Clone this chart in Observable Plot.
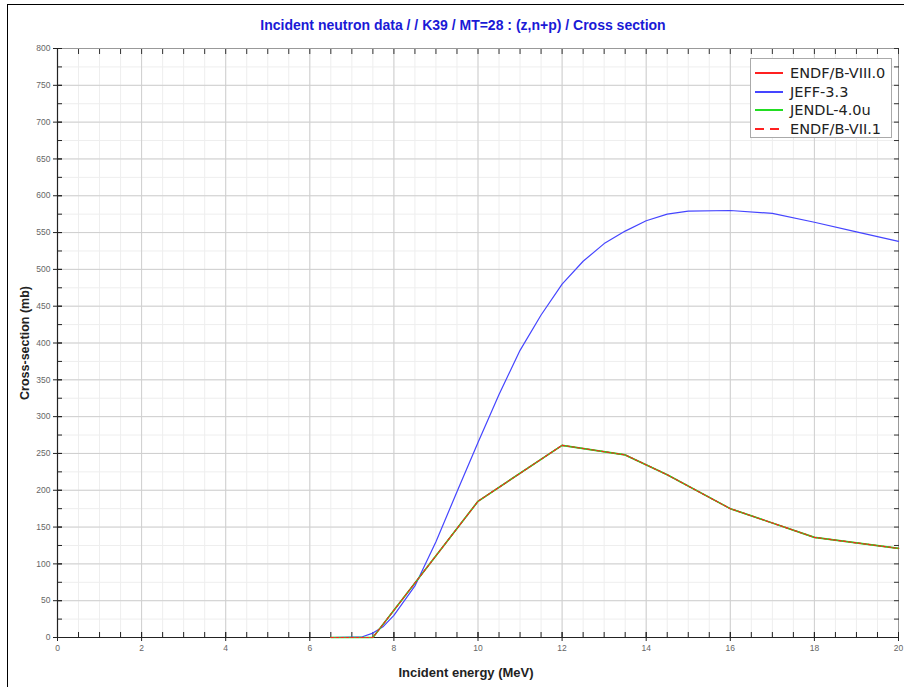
<!DOCTYPE html>
<html><head><meta charset="utf-8">
<script src="https://cdn.jsdelivr.net/npm/d3@7"></script>
<script src="https://cdn.jsdelivr.net/npm/@observablehq/plot@0.6"></script>
<style>
body{margin:0;background:#fff;}
#wrap{position:relative;width:904px;height:687px;overflow:hidden;background:#fff;}
#frame{position:absolute;left:7px;top:4px;width:1000px;height:1000px;border-left:1px solid #000;border-top:1px solid #000;}
#title{position:absolute;left:0;width:926px;top:17px;text-align:center;font:bold 14px "Liberation Sans Narrow","Arial Narrow","Liberation Sans",sans-serif;color:#1a1ad6;}
#chart{position:absolute;left:0;top:40px;}
#legend{position:absolute;left:750px;top:58px;width:140px;height:78px;border:1px solid #aaa;background:#fff;font:14.5px "DejaVu Sans",sans-serif;color:#222;}
#legend .row{position:absolute;left:4px;height:18px;display:flex;align-items:center;white-space:nowrap;}
#legend svg{margin-right:7px;}
</style></head>
<body><div id="wrap"><div id="frame"></div><div id="title"></div><div id="chart"></div><div id="legend"></div></div>
<script>
const titleText = "Incident neutron data / / K39 / MT=28 : (z,n+p) / Cross section";
const xLabel = "Incident energy (MeV)";
const yLabel = "Cross-section (mb)";

const seriesNames = ["ENDF/B-VIII.0", "JEFF-3.3", "JENDL-4.0u", "ENDF/B-VII.1"];
const seriesColors = ["#ff2020", "#4545ff", "#22dd22", "#ff2020"];

const energyEndf8 = [6.5, 7.5, 10, 12, 13.5, 14.5, 16, 18, 20];
const xsEndf8     = [0, 0, 185, 261, 248, 221, 175, 136, 121];

const energyJeff = [6.5, 7, 7.25, 7.5, 7.75, 8, 8.5, 9, 9.5, 10, 10.5, 11, 11.5, 12, 12.5, 13, 13.5, 14, 14.5, 15, 16, 17, 18, 19, 20];
const xsJeff     = [0, 0.5, 1, 6, 15, 30, 70, 130, 198, 265, 330, 390, 438, 480, 511, 535, 552, 566, 575, 579, 580, 576, 564, 551, 538];

const energyJendl = [6.5, 7.5, 10, 12, 13.5, 14.5, 16, 18, 20];
const xsJendl     = [0, 0, 185, 261, 248, 221, 175, 136, 121];

const energyEndf7 = [6.5, 7.5, 10, 12, 13.5, 14.5, 16, 18, 20];
const xsEndf7     = [0, 0, 185, 261, 248, 221, 175, 136, 121];

const xMajor = d3.range(0, 20.01, 2);
const xMinor = d3.range(0, 20.01, 0.5);
const yMajor = d3.range(0, 800.1, 50);
const yMinor = d3.range(0, 800.1, 25);

const toRows = (e, v) => e.map((x, i) => ({x, y: v[i]}));
const dEndf8 = toRows(energyEndf8, xsEndf8);
const dJeff = toRows(energyJeff, xsJeff);
const dJendl = toRows(energyJendl, xsJendl);
const dEndf7 = toRows(energyEndf7, xsEndf7);

document.getElementById("title").textContent = titleText;

const tickFont = "'Liberation Sans Narrow','Arial Narrow',sans-serif";
const chart = Plot.plot({
  width: 904, height: 647,
  marginTop: 8, marginBottom: 50, marginLeft: 57, marginRight: 6,
  x: {domain: [0, 20]},
  y: {domain: [0, 800]},
  style: {background: "transparent"},
  marks: [
    Plot.gridX(xMinor, {stroke: "#eeeeee", strokeOpacity: 1}),
    Plot.gridY(yMinor, {stroke: "#eeeeee", strokeOpacity: 1}),
    Plot.gridX(xMajor, {stroke: "#cfcfcf", strokeOpacity: 1}),
    Plot.gridY(yMajor, {stroke: "#cfcfcf", strokeOpacity: 1}),
    Plot.frame({anchor: "top", stroke: "#999"}),
    Plot.frame({anchor: "right", stroke: "#999"}),
    Plot.axisX(xMinor, {anchor: "top", tickSize: 5, dy: 5, text: null, label: null, stroke: "#333"}),
    Plot.axisY(yMinor, {anchor: "right", tickSize: 5, dx: -5, text: null, label: null, stroke: "#333"}),
    Plot.axisX(xMinor, {anchor: "bottom", tickSize: 5, dy: -5, text: null, label: null, stroke: "#222"}),
    Plot.axisY(yMinor, {anchor: "left", tickSize: 5, dx: 5, text: null, label: null, stroke: "#222"}),
    Plot.axisX(xMajor, {anchor: "bottom", tickSize: 9, dy: -5, text: null, label: null, stroke: "#222"}),
    Plot.axisY(yMajor, {anchor: "left", tickSize: 9, dx: 5, text: null, label: null, stroke: "#222"}),
    Plot.axisX(xMajor, {anchor: "bottom", tickSize: 0, tickPadding: 7, fontSize: 8.5, fontFamily: tickFont, fill: "#666", label: null}),
    Plot.axisY(yMajor, {anchor: "left", tickSize: 0, tickPadding: 7, fontSize: 8.5, fontFamily: tickFont, fill: "#666", label: null}),
    Plot.ruleX([0], {stroke: "#222", strokeWidth: 1.2}),
    Plot.ruleY([0], {stroke: "#222", strokeWidth: 1.2}),
    Plot.text([xLabel], {frameAnchor: "bottom", dx: -12, dy: 39, text: d => d, fontSize: 13, fontWeight: "bold", fontFamily: "'Liberation Sans Narrow','Arial Narrow','Liberation Sans',sans-serif", fill: "#222"}),
    Plot.text([yLabel], {frameAnchor: "left", dx: -33, rotate: -90, textAnchor: "middle", text: d => d, fontSize: 12.5, fontWeight: "bold", fontFamily: "'Liberation Sans','Arial',sans-serif", fill: "#222"}),
    Plot.line(dEndf8, {x: "x", y: "y", stroke: seriesColors[0], strokeWidth: 1.2}),
    Plot.line(dJeff, {x: "x", y: "y", stroke: seriesColors[1], strokeWidth: 1.2}),
    Plot.line(dJendl, {x: "x", y: "y", stroke: seriesColors[2], strokeWidth: 1.6}),
    Plot.line(dEndf7, {x: "x", y: "y", stroke: seriesColors[3], strokeWidth: 1.1, strokeDasharray: "3,2"})
  ]
});
document.getElementById("chart").appendChild(chart);

const legend = document.getElementById("legend");
seriesNames.forEach((name, i) => {
  const row = document.createElement("div");
  row.className = "row";
  row.style.top = (5 + i * 18.5) + "px";
  const dash = i === 3 ? 'stroke-dasharray="9,6"' : "";
  row.innerHTML = `<svg width="28" height="6"><line x1="0" y1="3" x2="28" y2="3" stroke="${seriesColors[i]}" stroke-width="2" ${dash}/></svg><span>${name}</span>`;
  legend.appendChild(row);
});
</script></body></html>
